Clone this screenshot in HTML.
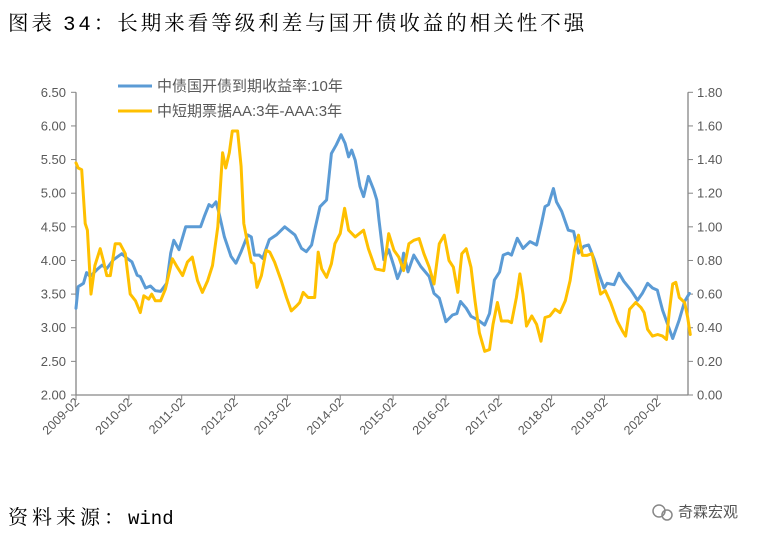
<!DOCTYPE html>
<html><head><meta charset="utf-8"><style>
body{margin:0;background:#fff;width:778px;height:543px;overflow:hidden;}
svg{display:block}
</style></head><body>
<svg width="778" height="543" xmlns="http://www.w3.org/2000/svg">
<text x="8" y="30" font-family="'Liberation Serif','Noto Serif CJK SC',serif" font-size="20.5" letter-spacing="3" fill="#000">图表 <tspan font-family="'Liberation Mono',monospace">34</tspan>：长期来看等级利差与国开债收益的相关性不强</text>
<g id="axes"></g>
<g id="series"></g>
<g>
<line x1="118" y1="86" x2="152" y2="86" stroke="#5B9BD5" stroke-width="3"/>
<text x="157" y="91" font-family="'Liberation Sans','Noto Sans CJK SC',sans-serif" font-size="15" fill="#595959">中债国开债到期收益率:10年</text>
<line x1="118" y1="111" x2="152" y2="111" stroke="#FFC000" stroke-width="3"/>
<text x="157" y="116" font-family="'Liberation Sans','Noto Sans CJK SC',sans-serif" font-size="15" fill="#595959">中短期票据AA:3年-AAA:3年</text>
</g>
<text x="8" y="524" font-family="'Liberation Serif','Noto Serif CJK SC',serif" font-size="20" fill="#000"><tspan letter-spacing="4">资料来源：</tspan><tspan font-family="'Liberation Mono',monospace" font-size="19">wind</tspan></text>
<g>
<circle cx="659" cy="511" r="6" fill="none" stroke="#888" stroke-width="1.5"/>
<circle cx="667" cy="515" r="5" fill="none" stroke="#888" stroke-width="1.5"/>
<text x="678" y="517" font-family="'Liberation Sans','Noto Sans CJK SC',sans-serif" font-size="15" fill="#555">奇霖宏观</text>
</g>
</svg>
<script>
const leftTicks=["2.00","2.50","3.00","3.50","4.00","4.50","5.00","5.50","6.00","6.50"];
const rightTicks=["0.00","0.20","0.40","0.60","0.80","1.00","1.20","1.40","1.60","1.80"];
const xLabels=["2009-02","2010-02","2011-02","2012-02","2013-02","2014-02","2015-02","2016-02","2017-02","2018-02","2019-02","2020-02"];
const cdbMonths=[0,0.5,1.7,2.4,3.2,4.7,5.9,7,8.5,10.4,11.6,12.7,13.9,14.6,15.8,16.9,18,19.2,20.6,21.5,22.2,23.4,24.9,26.8,28.3,29.1,30.2,30.9,31.8,32.5,33.7,35.2,36.3,37.5,39,39.8,40.5,41.6,42.4,43.9,45.5,47.4,49.7,51.2,52.3,53.5,54.2,55.4,56.9,58,59.1,60.2,61.1,61.9,62.6,63.4,64.5,65.3,66.4,67.6,68.3,68.8,69.9,71,72.2,73,73.8,74.4,75.4,76.7,78.3,80.2,81.3,82.5,84,85.5,86.5,87.3,88.6,89.7,91.2,92.8,93.9,95,96.2,97,98.1,98.9,100.2,101.5,103.1,104.6,105.7,106.5,107.3,108.4,109.1,110.3,111.8,113,114.1,115.3,116.4,117.6,118.7,119.9,120.6,122.2,123.3,124.4,126,127.5,128.6,129.8,130.9,132,133.2,134.4,135.5,137,138.2,139.3];
const cdbValues=[3.29,3.61,3.66,3.82,3.76,3.86,3.93,3.88,4.01,4.10,4.03,3.98,3.78,3.76,3.59,3.62,3.55,3.54,3.66,4.11,4.30,4.16,4.50,4.50,4.50,4.65,4.83,4.80,4.87,4.70,4.35,4.06,3.96,4.13,4.38,4.35,4.08,4.08,4.03,4.31,4.38,4.50,4.38,4.18,4.13,4.23,4.45,4.80,4.90,5.59,5.72,5.87,5.74,5.54,5.64,5.49,5.10,4.95,5.25,5.05,4.90,4.60,4.01,4.16,3.91,3.73,3.86,4.11,3.83,4.08,3.91,3.76,3.51,3.44,3.09,3.19,3.21,3.39,3.29,3.17,3.12,3.04,3.21,3.71,3.83,4.08,4.11,4.08,4.33,4.18,4.28,4.23,4.55,4.80,4.83,5.07,4.87,4.73,4.45,4.43,4.11,4.21,4.23,4.03,3.81,3.59,3.66,3.64,3.81,3.69,3.56,3.41,3.51,3.66,3.59,3.56,3.26,3.04,2.84,3.12,3.39,3.51];
const spreadMonths=[0,0.5,1.3,2.1,2.6,3.4,4.3,5.5,6.2,7,7.8,8.9,10,11.2,12.3,13.5,14.6,15.4,16.5,17.2,18,19.2,20.3,21.9,23,24.2,25.3,26.4,27.6,28.7,29.9,31,32.2,33.3,34,34.8,35.5,36.7,37.5,38.1,39,39.8,40.4,41.1,42.1,43.2,44,45.1,46.6,47.8,48.9,50.1,50.8,51.6,52.7,54.2,55,55.8,56.9,58,58.8,60,61,61.9,63.4,65.3,66.4,68,69.9,71,72.2,73.3,74.4,75.6,76.7,77.9,79,80.2,81.3,82.5,83.6,84.7,85.7,86.7,87.6,88.6,89.7,90.6,91.6,92.8,93.9,94.7,95.7,96.6,98.1,98.9,100,100.8,101.5,102.3,103.5,104.6,105.6,106.5,107.6,108.8,109.9,111.1,112.2,113.2,114.1,115,116,117.2,118.3,119.1,120.2,121.4,122.9,124.1,124.8,125.7,127.1,128.3,129,129.8,130.9,132.1,133.2,134.1,134.7,135.5,136.2,137,138.2,138.9,139.5];
const spreadValues=[1.38,1.35,1.34,1.02,0.98,0.60,0.77,0.87,0.80,0.71,0.71,0.90,0.90,0.84,0.60,0.56,0.49,0.59,0.57,0.60,0.56,0.56,0.63,0.81,0.76,0.71,0.79,0.82,0.68,0.61,0.68,0.77,1.00,1.44,1.35,1.44,1.57,1.57,1.36,1.02,0.90,0.79,0.78,0.64,0.71,0.86,0.85,0.79,0.68,0.58,0.50,0.53,0.55,0.61,0.58,0.58,0.85,0.75,0.70,0.78,0.90,0.96,1.11,0.98,0.94,0.98,0.87,0.75,0.74,0.96,0.86,0.82,0.74,0.90,0.92,0.93,0.84,0.76,0.66,0.90,0.95,0.80,0.76,0.61,0.84,0.87,0.76,0.56,0.37,0.26,0.27,0.42,0.55,0.44,0.44,0.43,0.58,0.72,0.60,0.41,0.47,0.42,0.32,0.46,0.47,0.51,0.49,0.56,0.68,0.86,0.95,0.83,0.83,0.84,0.70,0.60,0.62,0.55,0.44,0.38,0.35,0.51,0.55,0.52,0.49,0.39,0.35,0.36,0.35,0.33,0.49,0.66,0.67,0.58,0.55,0.46,0.36];

const NS="http://www.w3.org/2000/svg";
const X0=76,X1=688,Y0=395,Y1=92.3,PXM=(657.3-76)/132;
const xm=m=>X0+m*PXM;
const yl=v=>Y0-(v-2)/4.5*(Y0-Y1);
const yr=v=>Y0-v/1.8*(Y0-Y1);
const axes=document.getElementById('axes');
const series=document.getElementById('series');
function mk(tag,attrs,parent){const e=document.createElementNS(NS,tag);for(const k in attrs)e.setAttribute(k,attrs[k]);parent.appendChild(e);return e;}
const font="'Liberation Sans',sans-serif";
let e=mk('line',{x1:X0,y1:Y1,x2:X0,y2:Y0,stroke:'#868686','stroke-width':1.3},axes);


e=mk('line',{x1:X1,y1:Y1,x2:X1,y2:Y0,stroke:'#868686','stroke-width':1.3},axes);


e=mk('line',{x1:X0,y1:Y0,x2:X1,y2:Y0,stroke:'#868686','stroke-width':1.3},axes);


leftTicks.forEach(t=>{const y=yl(parseFloat(t));
 let l=mk('line',{x1:X0-5,y1:y,x2:X0,y2:y,stroke:'#868686'},axes);
 
 
 let tx=mk('text',{x:X0-10,y:y+4.5,'text-anchor':'end','font-family':font,'font-size':13,fill:'#595959'},axes);tx.textContent=t;
 
 });
rightTicks.forEach(t=>{const y=yr(parseFloat(t));
 let l=mk('line',{x1:X1,y1:y,x2:X1+5,y2:y,stroke:'#868686'},axes);
 
 
 let tx=mk('text',{x:X1+9,y:y+4.5,'font-family':font,'font-size':13,fill:'#595959'},axes);tx.textContent=t;
 
 });
xLabels.forEach((t,i)=>{const x=xm(i*12);
 let l=mk('line',{x1:x,y1:Y0,x2:x,y2:Y0+5,stroke:'#868686'},axes);
 
 
 let tx=mk('text',{x:x+4,y:Y0+8,'text-anchor':'end','font-family':font,'font-size':12.5,fill:'#595959',transform:`rotate(-45 ${x+4} ${Y0+8})`},axes);tx.textContent=t;
 
 });
function line(ms,vs,yf,color,name){
 const d=ms.map((m,i)=>(i?'L':'M')+xm(m).toFixed(1)+' '+yf(vs[i]).toFixed(1)).join(' ');
 const p=mk('path',{d:d,fill:'none',stroke:color,'stroke-width':3,'stroke-linejoin':'round','stroke-linecap':'round'},series);
 
 }
line(cdbMonths,cdbValues,yl,'#5B9BD5','line-cdb-10y-yield');
line(spreadMonths,spreadValues,yr,'#FFC000','line-aa-aaa-spread');
</script>
</body></html>
